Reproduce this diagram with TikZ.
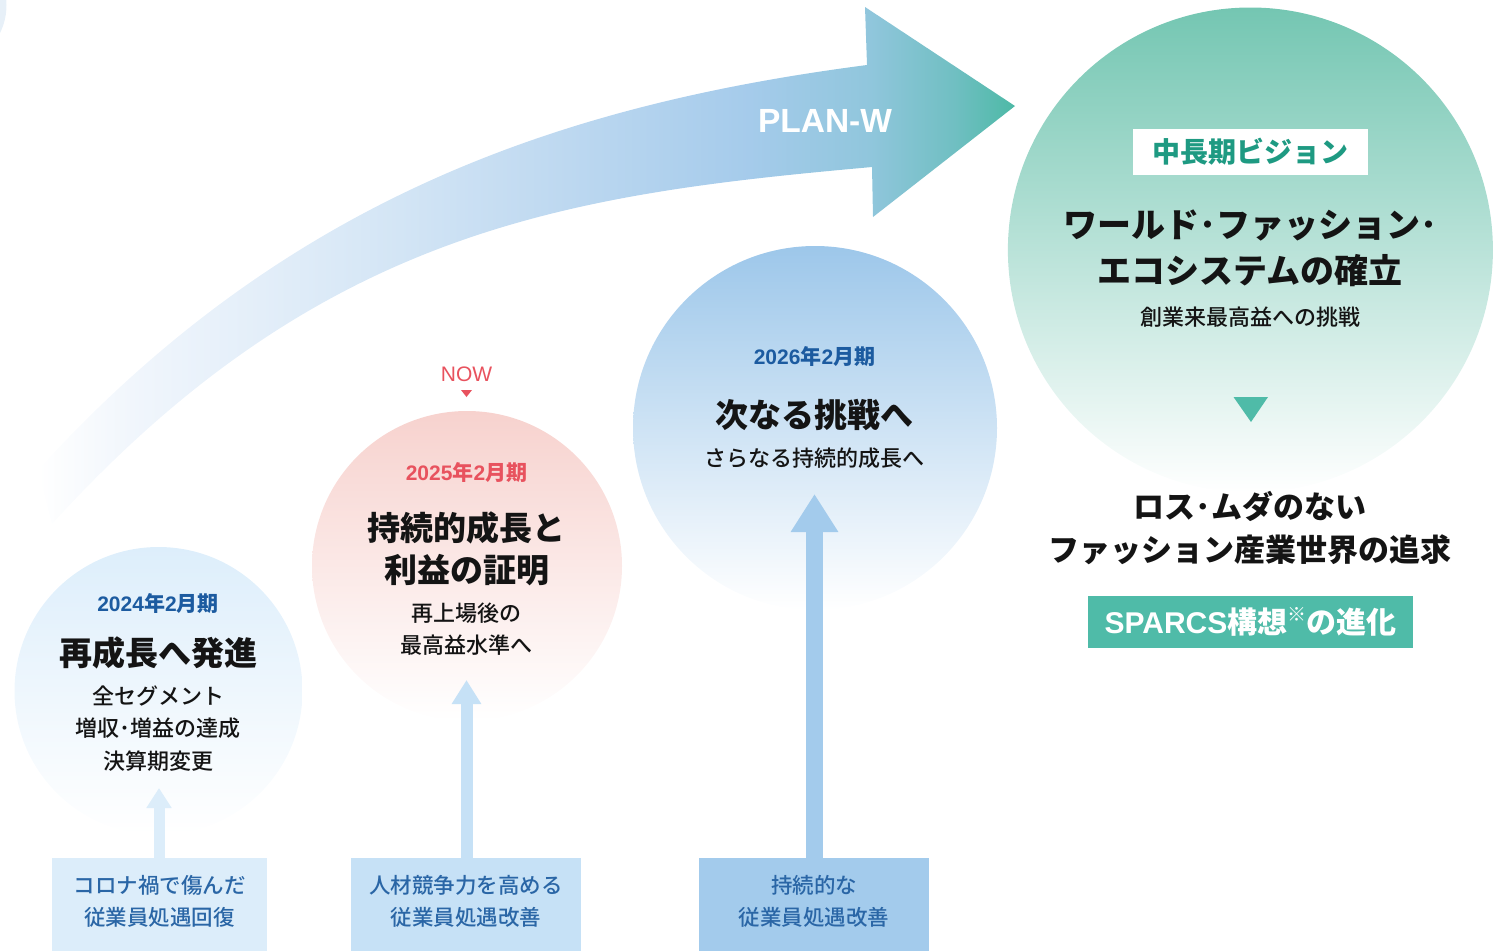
\documentclass[tikz,border=0pt]{standalone}
\usepackage{fontspec}
\setmainfont{Noto Sans CJK JP}
\newfontfamily\med{Noto Sans CJK JP}[UprightFont={* Medium}]
\newfontfamily\lat{Liberation Sans}
\usetikzlibrary{arrows.meta}
\definecolor{ink}{HTML}{141414}
\definecolor{yearblue}{HTML}{1C5BA0}
\definecolor{boxblue}{HTML}{2A66A6}
\definecolor{nowred}{HTML}{E8525E}
\definecolor{tealtxt}{HTML}{1E9A82}
\definecolor{tealbox}{HTML}{4FBBA8}
\definecolor{boxA}{HTML}{DCEDFA}
\definecolor{boxB}{HTML}{C6E1F6}
\definecolor{boxC}{HTML}{A3CBEC}
\definecolor{cA}{HTML}{DDEEFB}
\definecolor{cB}{HTML}{F7D2CE}
\definecolor{cC}{HTML}{9DC7EA}
\definecolor{cD}{HTML}{74C6B2}
\definecolor{cZ}{HTML}{E7F0F8}
\definecolor{bA}{HTML}{F1F6FC}
\definecolor{bB}{HTML}{E3EEF9}
\definecolor{bC}{HTML}{D3E5F5}
\definecolor{bD}{HTML}{C6DDF2}
\definecolor{bE}{HTML}{A5CBEB}
\definecolor{bF}{HTML}{90C6DC}
\definecolor{bG}{HTML}{70BFC2}
\definecolor{bH}{HTML}{4DB9A6}
\pgfdeclarehorizontalshading{planw}{100bp}{color(0bp)=(white); color(25bp)=(white); color(29.7bp)=(bA); color(36.4bp)=(bB); color(43.5bp)=(bC); color(48.6bp)=(bD); color(61.4bp)=(bE); color(67.6bp)=(bF); color(71.9bp)=(bG); color(75bp)=(bH); color(100bp)=(bH)}
\tikzset{
  yr/.style={font=\bfseries\fontsize{21}{25}\selectfont, inner sep=0pt},
  ttl/.style={font=\bfseries\fontsize{33}{42}\selectfont, text=ink, align=center, inner sep=0pt},
  sub/.style={font=\med\fontsize{22}{32.5}\selectfont, text=ink, align=center, inner sep=0pt},
  boxtxt/.style={font=\med\fontsize{21.5}{32}\selectfont, text=boxblue, align=center, inner sep=0pt},
  stepbox/.style={rectangle, inner sep=0pt, minimum width=#1, minimum height=93pt},
  bubble/.style={circle, inner sep=0pt, minimum size=#1},
}
\begin{document}
\begin{tikzpicture}[x=1pt,y=-1pt]
\useasboundingbox (0,0) rectangle (1499,951);
% corner circle
\node[bubble=127pt, fill=cZ] (c0) at (-57,5) {};
% PLAN-W band arrow
\shade[shading=planw]
  (38,470) .. controls (288,195) and (567,104) .. (867,65)
  -- (865,7) -- (1015,106) -- (873,217) -- (872,167)
  .. controls (572,194) and (322,227) .. (52,524)
  -- cycle;
\node[font=\lat\bfseries\fontsize{33.5}{36}\selectfont, text=white, inner sep=0pt] (plan) at (825,121) {PLAN-W};
% circles
\node[bubble=288pt, top color=cA, bottom color=white] (c1) at (158.5,691) {};
\node[bubble=310pt, top color=cB, bottom color=white] (c2) at (467,566) {};
\node[bubble=364pt, top color=cC, bottom color=white] (c3) at (815,428) {};
\node[bubble=485pt, top color=cD, bottom color=white] (c4) at (1250.4,250) {};
% circle 1
\node[yr, text=yearblue] (y1) at (158,603) {{\lat 2024}年{\lat 2}月期};
\node[ttl] (h1) at (158,653) {再成長へ発進};
\node[sub] (s1) at (158,728.5) {全セグメント\\増収･増益の達成\\決算期変更};
% circle 2
\node[font=\lat\fontsize{21}{24}\selectfont, text=nowred, inner sep=0pt] (now) at (466.5,374) {NOW};
\coordinate (nt) at (466.5,397);
\fill[nowred] (461,390) -- (472,390) -- (nt) -- cycle;
\node[yr, text=nowred] (y2) at (466.5,473) {{\lat 2025}年{\lat 2}月期};
\node[ttl] (h2) at (466.5,549) {持続的成長と\\利益の証明};
\node[sub] (s2) at (466.5,629) {再上場後の\\最高益水準へ};
% circle 3
\node[yr, text=yearblue] (y3) at (814.5,357) {{\lat 2026}年{\lat 2}月期};
\node[ttl] (h3) at (814.5,415) {次なる挑戦へ};
\node[sub] (s3) at (814.5,458) {さらなる持続的成長へ};
% circle 4
\node[rectangle, fill=white, minimum width=235pt, minimum height=46pt, inner sep=0pt,
      font=\bfseries\fontsize{28}{30}\selectfont, text=tealtxt] (vis) at (1250.5,152) {中長期ビジョン};
\node[font=\bfseries\fontsize{34}{46}\selectfont, text=ink, align=center, inner sep=0pt] (h4) at (1250,248) {ワールド･ファッション･\\エコシステムの確立};
\node[sub] (s4) at (1250,317) {創業来最高益への挑戦};
\coordinate (vt) at (1251,422);
\fill[tealbox] (1233.5,397) -- (1268,397) -- (vt) -- cycle;
\node[font=\bfseries\fontsize{31}{43}\selectfont, text=ink, align=center, inner sep=0pt] (h5) at (1250,528.5) {ロス･ムダのない\\ファッション産業世界の追求};
\node[rectangle, fill=tealbox, minimum width=325pt, minimum height=52pt, inner sep=0pt,
      font=\bfseries\fontsize{30}{32}\selectfont, text=white] (sp) at (1250.5,622) {{\lat SPARCS}構想\raisebox{0.4em}{\fontsize{19}{19}\selectfont ※}の進化};
% bottom boxes
\node[stepbox=215pt, fill=boxA] (b1) at (159.5,904.5) {};
\node[stepbox=230pt, fill=boxB] (b2) at (466,904.5) {};
\node[stepbox=230pt, fill=boxC] (b3) at (814,904.5) {};
\node[boxtxt] (t1) at (159.5,901) {コロナ禍で傷んだ\\従業員処遇回復};
\node[boxtxt] (t2) at (466,901) {人材競争力を高める\\従業員処遇改善};
\node[boxtxt] (t3) at (814,901) {持続的な\\従業員処遇改善};
% up arrows
\coordinate (a1) at (159,788);
\coordinate (a2) at (466.5,680);
\coordinate (a3) at (814.5,494);
\draw[boxA, line width=11pt, -{Triangle[width=24pt,length=20pt]}] (a1 |- b1.north) -- (a1);
\draw[boxB, line width=12pt, -{Triangle[width=28pt,length=24pt]}] (a2 |- b2.north) -- (a2);
\draw[boxC, line width=17pt, -{Triangle[width=45pt,length=38pt]}] (a3 |- b3.north) -- (a3);
\end{tikzpicture}
\end{document}
